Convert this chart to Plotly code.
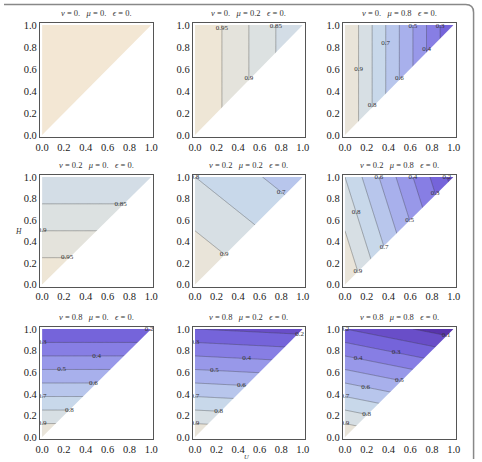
import numpy as np
import plotly.graph_objects as go

# ---- data -------------------------------------------------------------
NU = [0.0, 0.0, 0.0, 0.2, 0.2, 0.2, 0.8, 0.8, 0.8]
MU = [0.0, 0.2, 0.8, 0.0, 0.2, 0.8, 0.0, 0.2, 0.8]
EPS = [0.0] * 9
STEP = [0.1, 0.05, 0.1, 0.05, 0.1, 0.1, 0.1, 0.1, 0.1]
TICKS = [0.0, 0.2, 0.4, 0.6, 0.8, 1.0]
TICK_TEXT = ["0.0", "0.2", "0.4", "0.6", "0.8", "1.0"]
# contour labels: (level, given axis, given coordinate)
LABELS = [
    [],
    [(0.95, 'y', 0.97), (0.9, 'y', 0.52), (0.85, 'y', 0.99)],
    [(0.9, 'y', 0.6), (0.8, 'y', 0.27), (0.7, 'y', 0.83), (0.6, 'y', 0.52),
     (0.5, 'y', 0.99), (0.4, 'y', 0.78), (0.3, 'y', 0.99)],
    [(0.95, 'x', 0.23), (0.9, 'x', 0.0), (0.85, 'x', 0.72)],
    [(0.9, 'x', 0.27), (0.8, 'x', 0.0), (0.7, 'x', 0.8)],
    [(0.6, 'y', 1.0), (0.4, 'y', 1.0), (0.2, 'y', 1.0), (0.8, 'y', 0.67),
     (0.3, 'y', 0.85), (0.5, 'y', 0.6), (0.7, 'y', 0.35), (0.9, 'y', 0.12)],
    [(0.2, 'x', 0.98), (0.3, 'x', 0.0), (0.4, 'x', 0.5), (0.5, 'x', 0.18),
     (0.6, 'x', 0.47), (0.7, 'x', 0.0), (0.8, 'x', 0.25), (0.9, 'x', 0.0)],
    [(0.2, 'x', 0.97), (0.3, 'x', 0.0), (0.4, 'x', 0.48), (0.5, 'x', 0.18),
     (0.6, 'x', 0.43), (0.7, 'x', 0.0), (0.8, 'x', 0.22), (0.9, 'x', 0.0)],
    [(0.1, 'x', 0.93), (0.2, 'x', 0.0), (0.3, 'x', 0.47), (0.4, 'x', 0.12),
     (0.5, 'x', 0.5), (0.6, 'x', 0.19), (0.7, 'x', 0.0), (0.8, 'x', 0.2),
     (0.9, 'x', 0.0)]
]

# absolute colour function (value -> rgb)
CZ = [0.0, 0.05, 0.15, 0.25, 0.35, 0.45, 0.55, 0.65, 0.75, 0.85, 0.9, 0.925, 0.95, 0.975, 1.0]
CR = [80, 88, 105, 117, 135, 152, 168, 184, 200, 215, 224, 228, 233, 238, 243]
CG = [40, 52, 78, 100, 126, 152, 176, 198, 216, 223, 226, 227, 228, 230, 231]
CB = [160, 172, 200, 218, 228, 233, 236, 236, 234, 228, 223, 220, 217, 214, 212]


def colour(z):
    z = min(max(z, 0.0), 1.0)
    return "rgb(%d,%d,%d)" % (round(np.interp(z, CZ, CR)),
                              round(np.interp(z, CZ, CG)),
                              round(np.interp(z, CZ, CB)))


def make_scale(start, end, size):
    nc = int(np.floor((end - start) / size + 1e-9)) + 1
    zlo = start - size / 2
    zhi = start + (nc - 0.5) * size
    return [[s, colour(zlo + s * (zhi - zlo))] for s in np.linspace(0, 1, 81)]


def f(nu, mu, eps, u, h):
    return 1 - nu * h - mu * (1 - nu) * u - eps * u * h


# ---- layout geometry ---------------------------------------------------
W, H = 482, 462
COLS = [(36.5, 152.0), (192.0, 306.0), (344.5, 459.5)]
ROWS = [(20.0, 136.0), (174.0, 287.5), (328.0, 442.0)]
RNG = [-0.02, 1.02]

fig = go.Figure()
u = np.linspace(0, 1, 101)
hh = np.linspace(0, 1, 101)
U, HH = np.meshgrid(u, hh)

font_family = "Liberation Serif"

for i in range(9):
    r, c = divmod(i, 3)
    nu, mu, eps = NU[i], MU[i], EPS[i]
    xa = "x" if i == 0 else "x%d" % (i + 1)
    ya = "y" if i == 0 else "y%d" % (i + 1)
    Z = f(nu, mu, eps, U, HH)
    size = STEP[i]
    if Z.max() - Z.min() < 1e-9:
        start = end = Z.max() + size / 2
    else:
        start = size * np.ceil(Z.min() / size + 1e-6)
        end = size * np.floor(Z.max() / size - 1e-6)
        start = round(start, 4)
        end = round(end, 4)
    fig.add_trace(go.Contour(
        x=u, y=hh, z=Z, autocontour=False,
        contours=dict(start=start, end=end, size=size, coloring="fill", showlines=True),
        line=dict(color="rgba(60,60,60,0.6)", width=0.6),
        colorscale=make_scale(start, end, size), showscale=False,
        hoverinfo="skip", xaxis=xa, yaxis=ya))
    # region outside the admissible triangle (H < U) is blank
    fig.add_trace(go.Scatter(
        x=[-0.1, 1.2, 1.2, -0.1], y=[-0.1, -0.1, 1.2, -0.1], mode="lines",
        fill="toself", fillcolor="white", line=dict(width=0, color="white"),
        hoverinfo="skip", showlegend=False, xaxis=xa, yaxis=ya))
    # contour labels
    lx, ly, lt = [], [], []
    k = mu * (1 - nu)
    for lev, ax, val in LABELS[i]:
        if ax == 'x':
            px, py = val, (1 - lev - k * val) / nu
        else:
            px, py = (1 - lev - nu * val) / k, val
        lx.append(px)
        ly.append(py)
        lt.append("%g" % lev)
    if lx:
        fig.add_trace(go.Scatter(
            x=lx, y=ly, text=lt, mode="text", cliponaxis=True,
            textfont=dict(family=font_family, size=7, color="#333"),
            hoverinfo="skip", showlegend=False, xaxis=xa, yaxis=ya))

    x0, x1 = COLS[c]
    y0, y1 = ROWS[r]
    axcommon = dict(range=RNG, showgrid=False, zeroline=False, showline=True,
                    mirror=True, linecolor="#555", linewidth=1,
                    ticks="", tickvals=TICKS, ticktext=TICK_TEXT,
                    tickfont=dict(family=font_family, size=10.5, color="#222"))
    fig.layout["xaxis" if i == 0 else "xaxis%d" % (i + 1)] = dict(
        domain=[x0 / W, x1 / W], anchor=ya, **axcommon)
    fig.layout["yaxis" if i == 0 else "yaxis%d" % (i + 1)] = dict(
        domain=[1 - y1 / H, 1 - y0 / H], anchor=xa, **axcommon)
    title = "<i>ν</i> = %s   <i>μ</i> = %s   <i>ϵ</i> = %s" % (
        ("%g" % nu) + ("." if nu == 0 else ""),
        ("%g" % mu) + ("." if mu == 0 else ""),
        ("%g" % eps) + ("." if eps == 0 else ""))
    fig.add_annotation(x=(x0 + x1) / 2 / W, y=1 - (y0 - 9.5) / H, xref="paper", yref="paper",
                       text=title, showarrow=False, xanchor="center", yanchor="middle",
                       font=dict(family=font_family, size=8.5, color="#333"))

fig.add_annotation(x=15 / W, y=1 - 231 / H, xref="paper", yref="paper", text="<i>H</i>",
                   showarrow=False, xanchor="center", yanchor="middle",
                   font=dict(family=font_family, size=7.5, color="#333"))
fig.add_annotation(x=247 / W, y=1 - 459.5 / H, xref="paper", yref="paper", text="<i>U</i>",
                   showarrow=False, xanchor="center", yanchor="middle",
                   font=dict(family=font_family, size=6.5, color="#333"))

# outer frame (rounded top-right corner)
fig.add_shape(type="path", xref="paper", yref="paper",
              path="M 0,%f L %f,%f Q %f,%f %f,%f L %f,0" % (
                  1 - 1.5 / H, 469.5 / W, 1 - 1.5 / H, 477.5 / W, 1 - 1.5 / H,
                  477.5 / W, 1 - 9.5 / H, 477.5 / W),
              line=dict(color="#888", width=1.5))

fig.update_layout(width=W, height=H, margin=dict(l=0, r=0, t=0, b=0),
                  paper_bgcolor="white", plot_bgcolor="white", showlegend=False)
fig.write_html("out.html")
